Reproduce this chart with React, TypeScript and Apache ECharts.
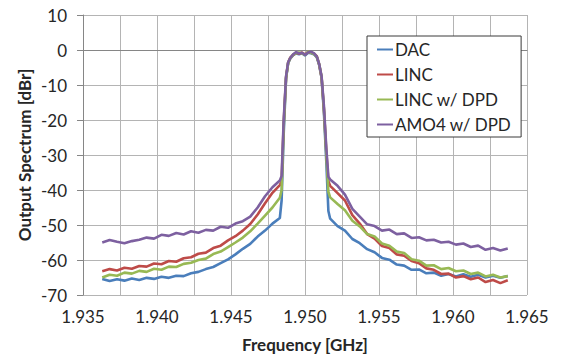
import React, { useEffect, useRef } from "react";
import * as echarts from "echarts";

// Frequency sample points [GHz]
const FREQ = [
  1.9363, 1.9368, 1.9373, 1.9378, 1.9383, 1.9388, 1.9393, 1.9398, 1.9403, 1.9408,
  1.9413, 1.9418, 1.9423, 1.9428, 1.9433, 1.9438, 1.9443, 1.9448, 1.9453, 1.9458,
  1.9463, 1.9468, 1.9473, 1.9478, 1.9483,
  1.94842, 1.94856, 1.94872, 1.94886, 1.949, 1.9492, 1.9494, 1.9496, 1.9498, 1.95,
  1.9502, 1.9504, 1.9506, 1.9508, 1.95096, 1.95112, 1.95128, 1.95144, 1.95158,
  1.9517, 1.9522, 1.9527, 1.9532, 1.9537, 1.9542, 1.9547, 1.9552, 1.9557, 1.9562,
  1.9567, 1.9572, 1.9577, 1.9582, 1.9587, 1.9592, 1.9597, 1.9602, 1.9607, 1.9612,
  1.9617, 1.9622, 1.9627, 1.9632, 1.9637,
];

const DAC = [
  -65.4, -66.0, -65.5, -65.9, -65.3, -65.7, -65.1, -65.4, -64.8, -65.1,
  -64.5, -64.6, -63.8, -63.4, -62.6, -62.0, -60.9, -59.8, -58.4, -56.8,
  -55.4, -53.3, -51.6, -49.6, -48.0,
  -43.0, -24.0, -8.2, -3.8, -2.5, -1.5, -1.0, -1.2, -0.9, -1.6,
  -0.8, -0.9, -1.2, -2.1, -4.3, -8.0, -18.0, -32.0, -46.0,
  -48.2, -50.3, -51.6, -54.0, -55.2, -56.9, -57.8, -59.4, -59.9, -61.3,
  -61.6, -62.8, -62.7, -63.8, -63.6, -64.5, -64.0, -64.7, -64.1, -64.8,
  -64.2, -65.0, -64.5, -65.1, -64.6,
];

const LINC = [
  -63.2, -62.6, -63.0, -62.2, -62.5, -61.7, -61.9, -61.0, -61.2, -60.3,
  -60.5, -59.5, -59.2, -58.2, -57.9, -56.6, -55.9, -54.4, -53.2, -51.6,
  -49.7, -47.0, -43.8, -40.8, -38.6,
  -37.5, -21.0, -7.8, -3.6, -2.2, -1.4, -0.8, -1.1, -0.7, -1.3,
  -0.6, -0.7, -1.0, -1.8, -4.2, -7.8, -17.0, -29.0, -37.5,
  -38.8, -40.9, -43.0, -47.2, -49.6, -52.6, -53.9, -56.0, -56.6, -58.4,
  -58.8, -60.3, -60.9, -62.4, -62.8, -64.0, -63.9, -65.0, -64.6, -65.5,
  -65.0, -66.3, -65.7, -66.6, -65.8,
];

const LINC_DPD = [
  -65.0, -64.2, -64.5, -63.6, -63.9, -63.1, -63.4, -62.5, -62.8, -61.9,
  -62.0, -61.1, -60.8, -60.0, -59.6, -58.3, -57.6, -56.3, -55.0, -53.6,
  -51.8, -49.6, -47.3, -45.0, -42.2,
  -40.0, -22.0, -8.0, -3.7, -2.4, -1.3, -0.9, -0.7, -0.9, -1.5,
  -0.5, -0.8, -1.1, -2.0, -4.1, -7.7, -17.0, -30.0, -40.5,
  -42.1, -44.0, -45.8, -48.8, -50.4, -52.6, -53.3, -55.3, -55.9, -57.6,
  -58.0, -59.8, -60.2, -61.6, -61.5, -62.6, -62.3, -63.2, -63.0, -64.0,
  -63.6, -64.7, -64.2, -65.0, -64.6,
];

const AMO4_DPD = [
  -55.0, -54.3, -54.8, -55.2, -54.6, -54.2, -53.6, -53.9, -52.8, -53.1,
  -52.3, -52.7, -51.8, -52.2, -51.4, -51.6, -50.5, -50.8, -49.6, -48.9,
  -47.6, -45.0, -41.8, -39.2, -37.3,
  -36.0, -20.0, -7.5, -3.5, -2.3, -1.2, -0.6, -1.0, -0.8, -1.4,
  -0.7, -0.5, -0.9, -1.9, -4.0, -7.5, -16.0, -28.0, -36.2,
  -37.0, -38.8, -41.3, -45.4, -47.6, -49.8, -50.3, -51.6, -51.3, -52.6,
  -52.4, -53.7, -53.5, -54.4, -54.2, -55.0, -54.8, -55.6, -55.3, -56.3,
  -55.9, -57.1, -56.6, -57.3, -56.7,
];

const SERIES_NAMES = ["DAC", "LINC", "LINC w/ DPD", "AMO4 w/ DPD"];
const SERIES_VALUES = [DAC, LINC, LINC_DPD, AMO4_DPD];
const SERIES_COLORS = ["#4A7EBB", "#BE4B48", "#98B954", "#7D60A0"];

const X_MIN = 1.935;
const X_MAX = 1.965;
const X_STEP = 0.0025;
const Y_MIN = -70;
const Y_MAX = 10;
const Y_STEP = 10;

const FONT = "Lato, 'Open Sans', sans-serif";

export default function App() {
  const ref = useRef<HTMLDivElement>(null);

  useEffect(() => {
    if (!ref.current) return;
    const chart = echarts.init(ref.current, undefined, { renderer: "svg" });
    const series = SERIES_NAMES.map((name, i) => ({
      name,
      type: "line",
      symbol: "none",
      showSymbol: false,
      data: FREQ.map((f, j) => [f, SERIES_VALUES[i][j]]),
      lineStyle: { color: SERIES_COLORS[i], width: 2.6 },
      itemStyle: { color: SERIES_COLORS[i] },
      z: 2 + i,
    }));
    chart.setOption({
      animation: false,
      backgroundColor: "#ffffff",
      grid: { left: 83, right: 34, top: 15, bottom: 69, containLabel: false },
      xAxis: {
        type: "value",
        min: X_MIN,
        max: X_MAX,
        interval: X_STEP,
        name: "Frequency [GHz]",
        nameLocation: "middle",
        nameGap: 41,
        nameMoveOverlap: false,
        nameTextStyle: { fontFamily: FONT, fontSize: 17, fontWeight: "bold", color: "#262626" },
        axisLine: { show: true, lineStyle: { color: "#868686", width: 1 } },
        axisTick: { show: false },
        axisLabel: {
          fontFamily: FONT,
          fontSize: 17,
          color: "#262626",
          margin: 13,
          formatter: (v: number) =>
            Math.round(v * 10000) % 50 === 0 ? v.toFixed(3) : "",
        },
        splitLine: { show: true, lineStyle: { color: "#b4b4b4", width: 1 } },
      },
      yAxis: {
        type: "value",
        min: Y_MIN,
        max: Y_MAX,
        interval: Y_STEP,
        name: "Output Spectrum [dBr]",
        nameLocation: "middle",
        nameGap: 50,
        nameMoveOverlap: false,
        nameTextStyle: { fontFamily: FONT, fontSize: 17, fontWeight: "bold", color: "#262626" },
        axisLine: { show: true, lineStyle: { color: "#868686", width: 1 } },
        axisTick: { show: true, inside: false, length: 6, lineStyle: { color: "#868686" } },
        axisLabel: { fontFamily: FONT, fontSize: 17, color: "#262626", margin: 16 },
        splitLine: { show: true, lineStyle: { color: "#b4b4b4", width: 1 } },
      },
      legend: {
        data: SERIES_NAMES,
        orient: "vertical",
        left: 367,
        top: 36,
        padding: [4, 10, 3, 10],
        itemGap: 6,
        itemWidth: 16,
        itemHeight: 2,
        icon: "rect",
        backgroundColor: "#ffffff",
        borderColor: "#3a3a3a",
        borderWidth: 1,
        textStyle: { fontFamily: FONT, fontSize: 17, color: "#262626", padding: [0, 0, 0, -3], lineHeight: 19 },
      },
      series,
    });
    return () => chart.dispose();
  }, []);

  return (
    <div
      ref={ref}
      style={{ position: "absolute", left: 0, top: 0, width: 561, height: 364 }}
    />
  );
}
